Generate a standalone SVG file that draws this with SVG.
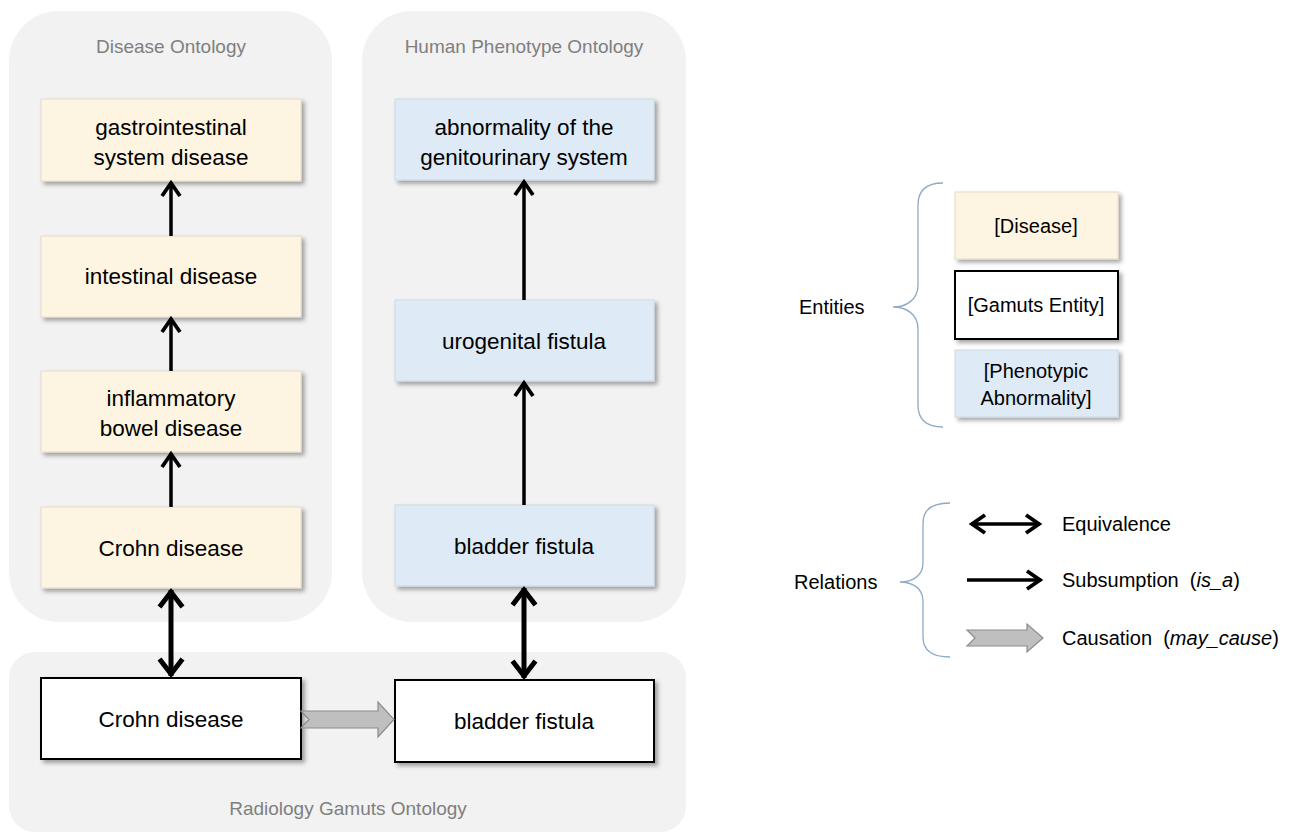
<svg xmlns="http://www.w3.org/2000/svg" width="1301" height="832" viewBox="0 0 1301 832">
<style>
.panel{fill:#f2f2f2;}
.ptitle{font-family:"Liberation Sans",Arial,sans-serif;font-size:19px;fill:#7f7f7f;text-anchor:middle;}
.lbl{font-family:"Liberation Sans",Arial,sans-serif;font-size:22.5px;fill:#000;text-anchor:middle;dominant-baseline:central;}
.leg{font-family:"Liberation Sans",Arial,sans-serif;font-size:20px;fill:#000;text-anchor:middle;dominant-baseline:central;}
.legt{font-family:"Liberation Sans",Arial,sans-serif;font-size:20px;fill:#000;dominant-baseline:central;white-space:pre;}
.dis{fill:#fdf5e1;stroke:#e3dccb;stroke-width:1;filter:url(#sh);}
.phe{fill:#deeaf6;stroke:#cfd9e4;stroke-width:1;filter:url(#sh);}
.gam{fill:#ffffff;stroke:#000;stroke-width:2;filter:url(#sh);}
.rel{stroke:#000;stroke-width:3.5;fill:none;}
.eq{stroke:#000;stroke-width:5;fill:none;}
.cause{fill:#bfbfbf;stroke:#8c8c8c;stroke-width:1.2;}
.brace{fill:none;stroke:#8eaac4;stroke-width:1.3;}
</style>
<defs>
<filter id="sh" x="-10%" y="-10%" width="125%" height="135%">
<feDropShadow dx="3" dy="3" stdDeviation="2" flood-color="#000" flood-opacity="0.35"/>
</filter>
<marker id="ah" markerUnits="userSpaceOnUse" viewBox="0 0 24 24" markerWidth="24" markerHeight="24" refX="20" refY="12" orient="auto-start-reverse">
<path d="M6,3 L19,12 L6,21" fill="none" stroke="#000" stroke-width="3.8" stroke-linejoin="miter" stroke-linecap="butt"/>
</marker>
<marker id="ah2" markerUnits="userSpaceOnUse" viewBox="0 0 30 30" markerWidth="30" markerHeight="30" refX="25" refY="15" orient="auto-start-reverse">
<path d="M8,3.5 L23,15 L8,26.5" fill="none" stroke="#000" stroke-width="5" stroke-linejoin="miter" stroke-linecap="butt"/>
</marker>
</defs>

<g id="panel-disease-ontology">
<rect class="panel" x="9" y="11" width="323" height="611" rx="50"/>
<text class="ptitle" x="171" y="53">Disease Ontology</text>
</g>
<g id="panel-human-phenotype-ontology">
<rect class="panel" x="362" y="11" width="324" height="611" rx="50"/>
<text class="ptitle" x="524" y="53">Human Phenotype Ontology</text>
</g>
<g id="panel-radiology-gamuts-ontology">
<rect class="panel" x="9" y="652" width="677" height="180" rx="26"/>
<text class="ptitle" x="348" y="815">Radiology Gamuts Ontology</text>
</g>

<g id="node-gastrointestinal-system-disease">
<rect class="dis" x="41" y="99" width="260" height="82"/>
<text class="lbl" x="171" y="127">gastrointestinal</text>
<text class="lbl" x="171" y="157">system disease</text>
</g>
<g id="node-intestinal-disease">
<rect class="dis" x="41" y="236" width="260" height="81"/>
<text class="lbl" x="171" y="276">intestinal disease</text>
</g>
<g id="node-inflammatory-bowel-disease">
<rect class="dis" x="41" y="371" width="260" height="81"/>
<text class="lbl" x="171" y="398">inflammatory</text>
<text class="lbl" x="171" y="428">bowel disease</text>
</g>
<g id="node-crohn-disease-do">
<rect class="dis" x="41" y="507" width="260" height="81"/>
<text class="lbl" x="171" y="548">Crohn disease</text>
</g>

<g id="node-abnormality-genitourinary">
<rect class="phe" x="395" y="99" width="259" height="81"/>
<text class="lbl" x="524" y="127">abnormality of the</text>
<text class="lbl" x="524" y="157">genitourinary system</text>
</g>
<g id="node-urogenital-fistula">
<rect class="phe" x="395" y="300" width="259" height="81"/>
<text class="lbl" x="524" y="341">urogenital fistula</text>
</g>
<g id="node-bladder-fistula-hpo">
<rect class="phe" x="395" y="505" width="259" height="81"/>
<text class="lbl" x="524" y="546">bladder fistula</text>
</g>

<g id="node-crohn-disease-gamuts">
<rect class="gam" x="41" y="678" width="260" height="81"/>
<text class="lbl" x="171" y="719">Crohn disease</text>
</g>
<g id="node-bladder-fistula-gamuts">
<rect class="gam" x="395" y="680" width="259" height="82"/>
<text class="lbl" x="524" y="721">bladder fistula</text>
</g>

<g id="connectors">
<line class="rel" x1="171" y1="236" x2="171" y2="182" marker-end="url(#ah)"/>
<line class="rel" x1="171" y1="371" x2="171" y2="318" marker-end="url(#ah)"/>
<line class="rel" x1="171" y1="507" x2="171" y2="453" marker-end="url(#ah)"/>
<line class="rel" x1="524" y1="300" x2="524" y2="181" marker-end="url(#ah)"/>
<line class="rel" x1="524" y1="505" x2="524" y2="382" marker-end="url(#ah)"/>
<line class="eq" x1="171" y1="590" x2="171" y2="676" marker-start="url(#ah2)" marker-end="url(#ah2)"/>
<line class="eq" x1="524" y1="588" x2="524" y2="678" marker-start="url(#ah2)" marker-end="url(#ah2)"/>
<path class="cause" d="M301,711 L378,711 L378,702 L394,719.5 L378,737 L378,728 L301,728 L309,719.5 Z"/>
</g>

<g id="legend-entities">
<text class="legt" x="799" y="307">Entities</text>
<path class="brace" d="M943,183 C926,183 918,190 918,205 L918,285 C918,300 906,307 893,307 C906,307 918,314 918,329 L918,405 C918,420 926,427 943,427"/>
<g id="legend-disease">
<rect class="dis" x="955" y="192" width="163" height="67"/>
<text class="leg" x="1036" y="226">[Disease]</text>
</g>
<g id="legend-gamuts-entity">
<rect class="gam" x="955" y="271" width="163" height="68"/>
<text class="leg" x="1036" y="305">[Gamuts Entity]</text>
</g>
<g id="legend-phenotypic-abnormality">
<rect class="phe" x="955" y="350" width="163" height="67"/>
<text class="leg" x="1036" y="371">[Phenotypic</text>
<text class="leg" x="1036" y="398">Abnormality]</text>
</g>
</g>

<g id="legend-relations">
<text class="legt" x="794" y="582">Relations</text>
<path class="brace" d="M950,503 C931,503 923,510 923,523 L923,563 C923,576 912,582 900,582 C912,582 923,588 923,601 L923,637 C923,650 931,657 950,657"/>
<line class="rel" x1="971" y1="524" x2="1040" y2="524" stroke-width="4" marker-start="url(#ah)" marker-end="url(#ah)"/>
<text class="legt" x="1062" y="524">Equivalence</text>
<line class="rel" x1="967" y1="580" x2="1041" y2="580" marker-end="url(#ah)"/>
<text class="legt" x="1062" y="580" xml:space="preserve">Subsumption  (<tspan font-style="italic">is_a</tspan>)</text>
<path class="cause" d="M967,630 L1027,630 L1027,624 L1043,638 L1027,652 L1027,646 L967,646 L975,638 Z"/>
<text class="legt" x="1062" y="638" xml:space="preserve">Causation  (<tspan font-style="italic">may_cause</tspan>)</text>
</g>
</svg>
